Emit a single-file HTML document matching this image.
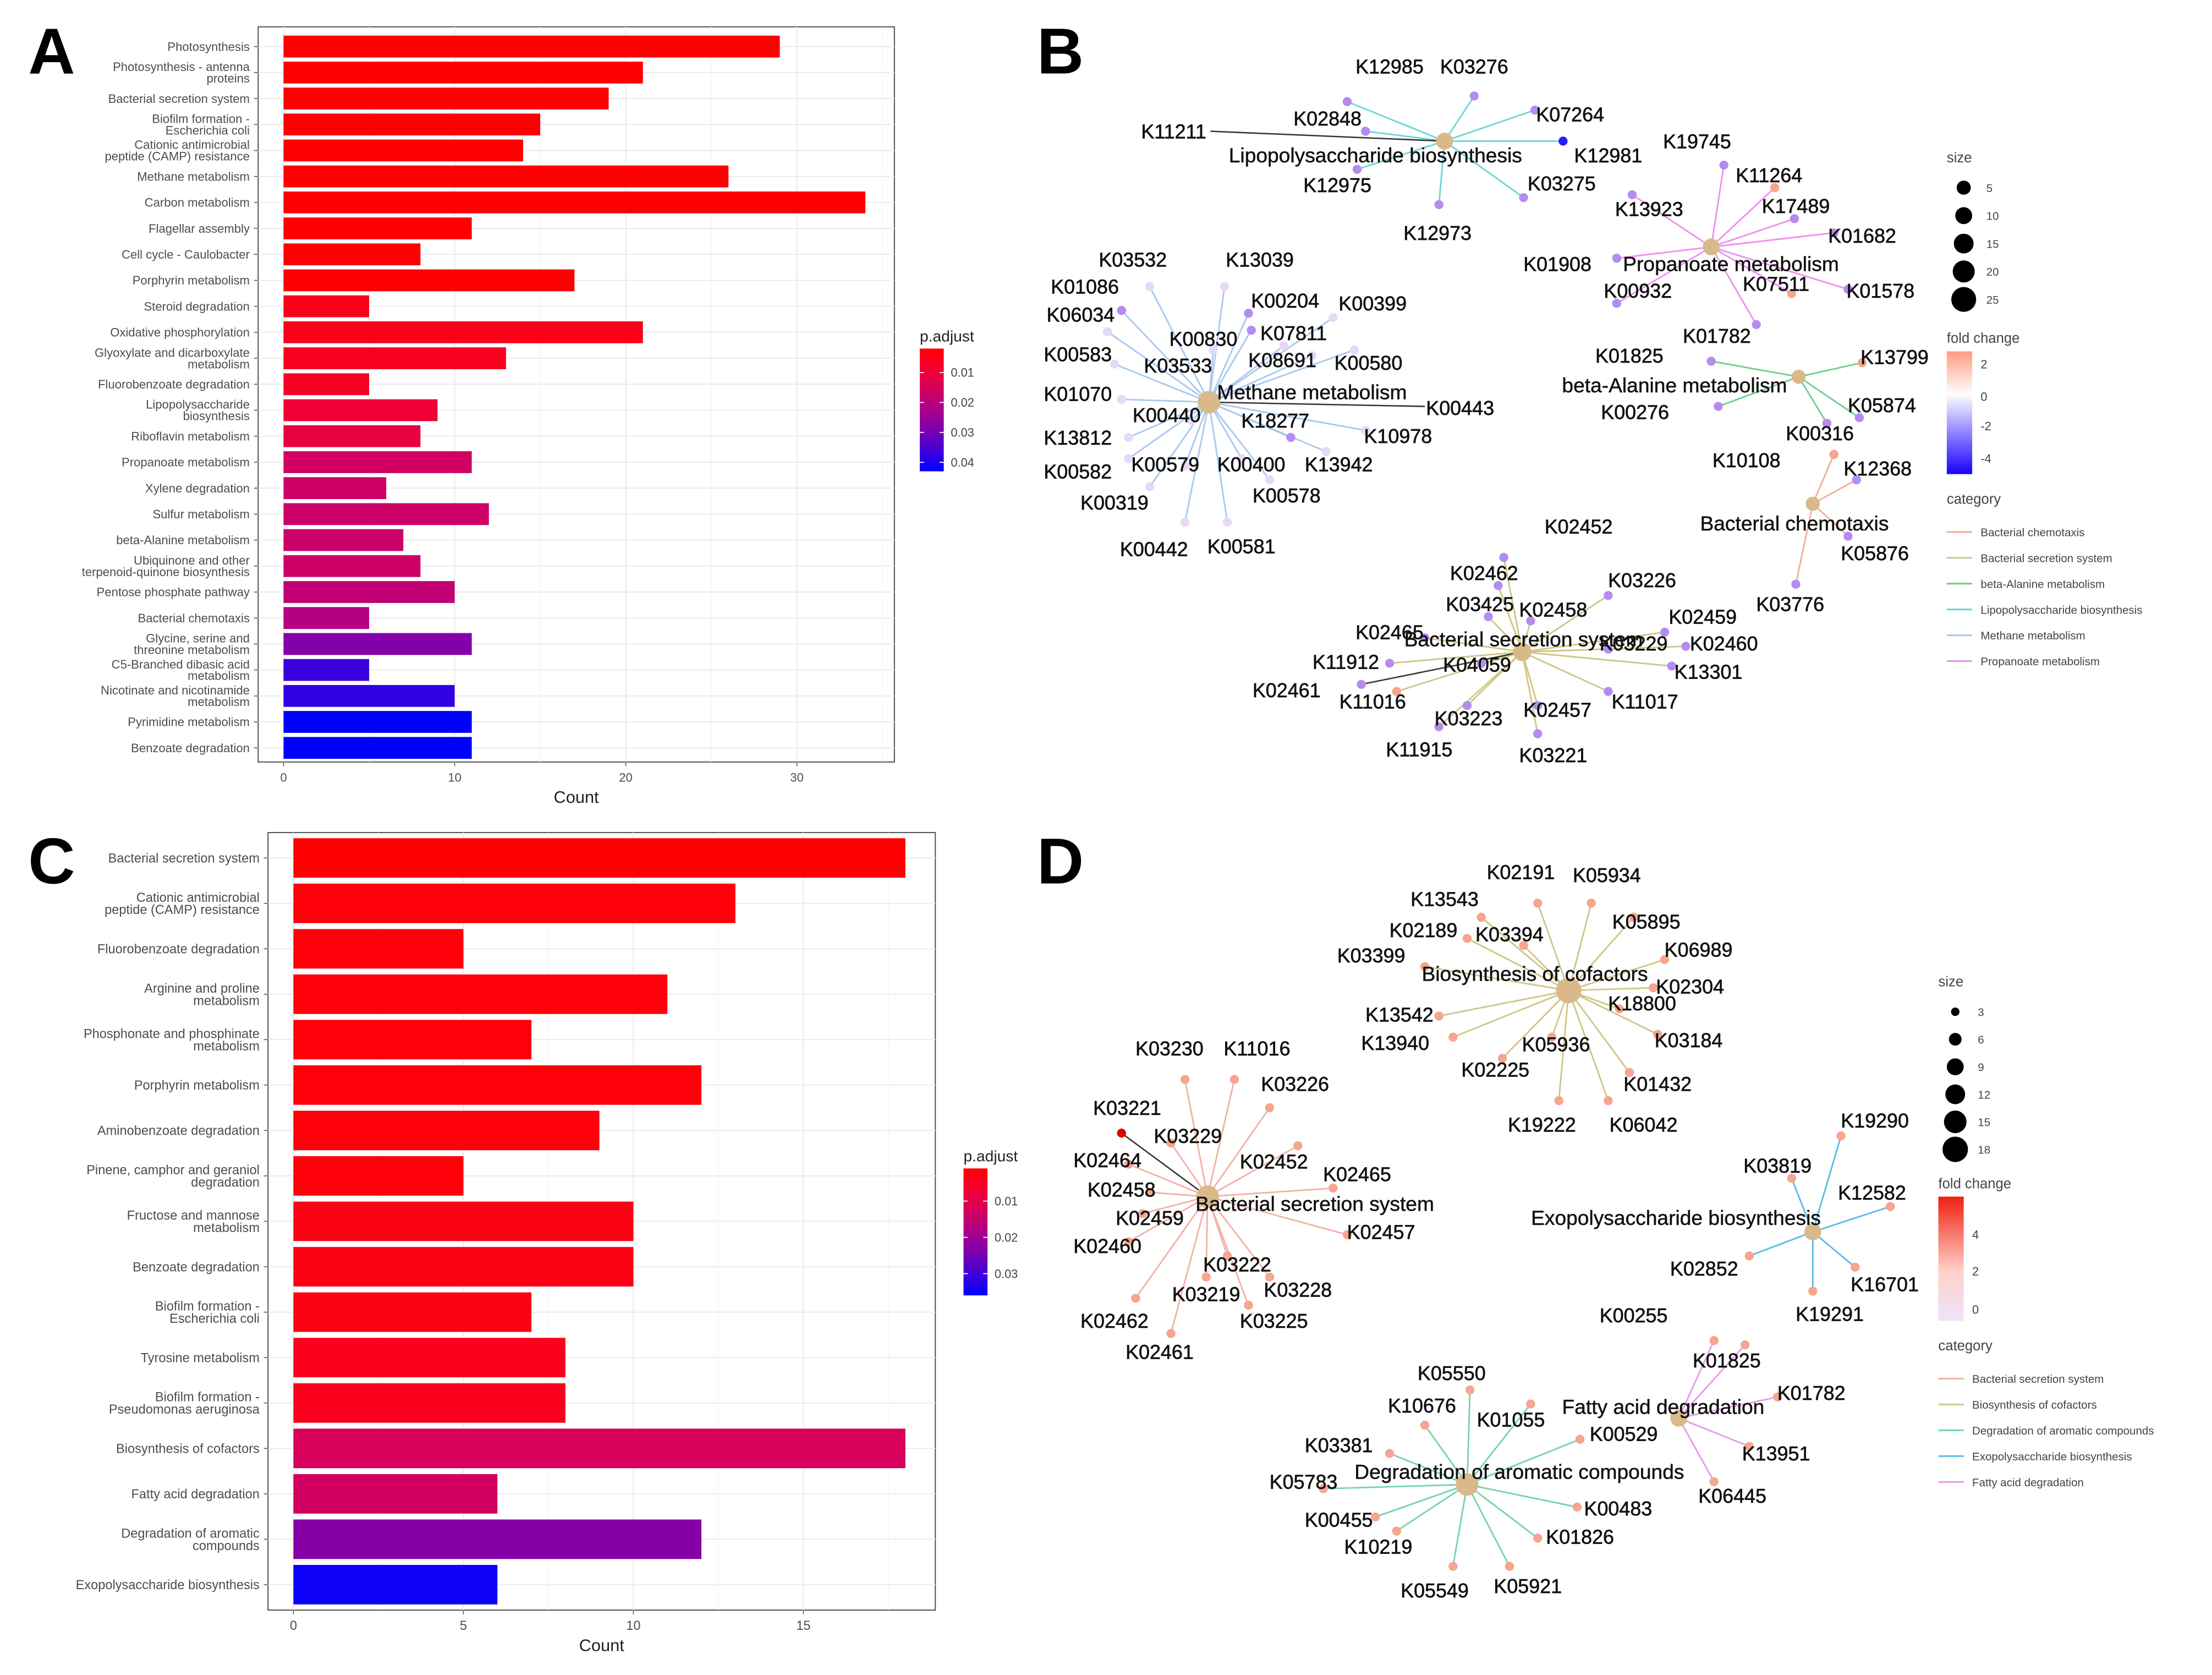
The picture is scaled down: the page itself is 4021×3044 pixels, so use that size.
<!DOCTYPE html>
<html><head><meta charset="utf-8">
<style>
html,body{margin:0;padding:0;background:#fff;}
svg{display:block;font-family:"Liberation Sans",sans-serif;}
</style></head>
<body>
<svg id="fig" width="4021" height="3044" viewBox="0 0 1568 1187" xmlns="http://www.w3.org/2000/svg">
<rect width="1568" height="1187" fill="#fff"/>
<g id="root"></g>
</svg>
<script>
// ---------- Panel A data ----------
const catsA = ["Photosynthesis","Photosynthesis - antenna\nproteins","Bacterial secretion system","Biofilm formation -\nEscherichia coli","Cationic antimicrobial\npeptide (CAMP) resistance","Methane metabolism","Carbon metabolism","Flagellar assembly","Cell cycle - Caulobacter","Porphyrin metabolism","Steroid degradation","Oxidative phosphorylation","Glyoxylate and dicarboxylate\nmetabolism","Fluorobenzoate degradation","Lipopolysaccharide\nbiosynthesis","Riboflavin metabolism","Propanoate metabolism","Xylene degradation","Sulfur metabolism","beta-Alanine metabolism","Ubiquinone and other\nterpenoid-quinone biosynthesis","Pentose phosphate pathway","Bacterial chemotaxis","Glycine, serine and\nthreonine metabolism","C5-Branched dibasic acid\nmetabolism","Nicotinate and nicotinamide\nmetabolism","Pyrimidine metabolism","Benzoate degradation"];
const countsA = [29,21,19,15,14,26,34,11,8,17,5,21,13,5,9,8,11,6,12,7,8,10,5,11,5,10,11,11];
const padjA = [0.002,0.002,0.002,0.002,0.002,0.002,0.002,0.002,0.002,0.002,0.005,0.005,0.006,0.007,0.009,0.011,0.016,0.017,0.017,0.017,0.017,0.019,0.021,0.028,0.037,0.038,0.043,0.043];
const ticksA = [0,10,20,30];
const legTicksA = [0.01,0.02,0.03,0.04];
// ---------- Panel C data ----------
const catsC = ["Bacterial secretion system","Cationic antimicrobial\npeptide (CAMP) resistance","Fluorobenzoate degradation","Arginine and proline\nmetabolism","Phosphonate and phosphinate\nmetabolism","Porphyrin metabolism","Aminobenzoate degradation","Pinene, camphor and geraniol\ndegradation","Fructose and mannose\nmetabolism","Benzoate degradation","Biofilm formation -\nEscherichia coli","Tyrosine metabolism","Biofilm formation -\nPseudomonas aeruginosa","Biosynthesis of cofactors","Fatty acid degradation","Degradation of aromatic\ncompounds","Exopolysaccharide biosynthesis"];
const countsC = [18,13,5,11,7,12,9,5,10,10,7,8,8,18,6,12,6];
const padjC = [0.001,0.002,0.002,0.002,0.002,0.002,0.002,0.002,0.003,0.003,0.003,0.004,0.004,0.012,0.013,0.023,0.035];
const ticksC = [0,5,10,15];
const legTicksC = [0.01,0.02,0.03];

const NS="http://www.w3.org/2000/svg";
const root=document.getElementById('root');
function mk(tag,attrs,parent,text){const e=document.createElementNS(NS,tag);for(const k in attrs)e.setAttribute(k,attrs[k]);if(text!==undefined)e.textContent=text;(parent||root).appendChild(e);return e;}

function pcol(p,pmin,pmax){let t=(p-pmin)/(pmax-pmin);t=Math.max(0,Math.min(1,t));
 const b=Math.round(255*Math.pow(t,0.9));
 const rr=Math.round(255*(1-Math.pow(t,1.6)));
 return `rgb(${rr},0,${b})`;}

function barPanel(o){
 const g=mk('g',{});
 
 
 mk('rect',{x:o.bx0,y:o.by0,width:o.bx1-o.bx0,height:o.by1-o.by0,fill:'#fff',stroke:'#555','stroke-width':0.8},g);
 const xs=v=>o.x0+v*o.ppu;
 const n=o.cats.length;
 const ys=i=>o.yTop+i*(o.yBot-o.yTop)/(n-1);
 o.ticks.forEach(t=>{mk('line',{x1:xs(t),x2:xs(t),y1:o.by0,y2:o.by1,stroke:'#ebebeb','stroke-width':0.8},g);
  mk('line',{x1:xs(t+o.ticks[1]/2),x2:xs(t+o.ticks[1]/2),y1:o.by0,y2:o.by1,stroke:'#f4f4f4','stroke-width':0.5},g);});
 for(let i=0;i<n;i++)mk('line',{x1:o.bx0,x2:o.bx1,y1:ys(i),y2:ys(i),stroke:'#ebebeb','stroke-width':0.8},g);
 o.cats.forEach((c,i)=>{
  const r=mk('rect',{x:xs(0),y:ys(i)-o.bh/2,width:xs(o.counts[i])-xs(0),height:o.bh,fill:pcol(o.padj[i],o.pmin,o.pmax)},g);
  
  
  const lines=c.split('\n');
  const t=mk('text',{x:o.bx0-6,'text-anchor':'end','font-size':o.fs,fill:'#4d4d4d'},g);
  
  
  lines.forEach((l,k)=>{mk('tspan',{x:o.bx0-6,y:ys(i)+o.fs*0.35+(k-(lines.length-1)/2)*o.fs*0.95},t,l);});
  mk('line',{x1:o.bx0-3,x2:o.bx0,y1:ys(i),y2:ys(i),stroke:'#555','stroke-width':0.6},g);
 });
 o.ticks.forEach(t=>{mk('line',{x1:xs(t),x2:xs(t),y1:o.by1,y2:o.by1+3,stroke:'#555','stroke-width':0.6},g);
  const tt=mk('text',{x:xs(t),y:o.by1+14,'text-anchor':'middle','font-size':o.fs,fill:'#4d4d4d'},g,String(t));
  
  });
 const at=mk('text',{x:(o.bx0+o.bx1)/2,y:o.by1+29,'text-anchor':'middle','font-size':12,fill:'#222'},g,'Count');
 
 
 const lg=mk('g',{},g);
 
 
 mk('text',{x:o.lx,y:o.ly-5,'font-size':11,fill:'#222'},lg,'p.adjust');
 const gid='grad'+o.name;
 const gr=mk('linearGradient',{id:gid,x1:0,y1:0,x2:0,y2:1},lg);
 for(let s=0;s<=10;s++){const p=o.pmin+(o.pmax-o.pmin)*s/10;mk('stop',{offset:s/10,'stop-color':pcol(p,o.pmin,o.pmax)},gr);}
 mk('rect',{x:o.lx,y:o.ly,width:17,height:o.lh,fill:`url(#${gid})`},lg);
 const ly=p=>o.ly+(p-o.pmin)/(o.pmax-o.pmin)*o.lh;
 o.legTicks.forEach(p=>{mk('line',{x1:o.lx,x2:o.lx+3,y1:ly(p),y2:ly(p),stroke:'#fff','stroke-width':0.7},lg);mk('line',{x1:o.lx+14,x2:o.lx+17,y1:ly(p),y2:ly(p),stroke:'#fff','stroke-width':0.7},lg);
  mk('text',{x:o.lx+22,y:ly(p)+3,'font-size':8.5,fill:'#444'},lg,String(p));});
}
barPanel({name:'panel-a-bar-chart',cats:catsA,counts:countsA,padj:padjA,ticks:ticksA,legTicks:legTicksA,bx0:183,bx1:634,by0:19,by1:540,x0:201,ppu:12.13,yTop:33,yBot:530,bh:15.5,fs:8.6,pmin:0.002,pmax:0.043,lx:652,ly:247,lh:87});
barPanel({name:'panel-c-bar-chart',cats:catsC,counts:countsC,padj:padjC,ticks:ticksC,legTicks:legTicksC,bx0:190,bx1:663,by0:590,by1:1141,x0:208,ppu:24.1,yTop:608,yBot:1123,bh:28,fs:9.2,pmin:0.001,pmax:0.036,lx:683,ly:828,lh:90});

function network(name,centers,genes){
 const g=mk('g',{});
 
 
 const eg=mk('g',{},g);
 genes.forEach(d=>{const c=centers[d[5]];mk('line',{x1:c.x,y1:c.y,x2:d[3],y2:d[4],stroke:d[7]?'#333':c.col,'stroke-width':d[7]?1:1.1},eg);});
 genes.forEach(d=>{const n=mk('circle',{cx:d[3],cy:d[4],r:d[6]&&d[6].r||3.2,fill:(d[6]&&d[6].f)||centers[d[5]].node},g);
  
  });
 Object.keys(centers).forEach(k=>{const c=centers[k];const n=mk('circle',{cx:c.x,cy:c.y,r:c.r,fill:'#d9b98a'},g);
  
  });
 genes.forEach(d=>{const t=mk('text',{x:d[1],y:d[2]+5,'text-anchor':'middle','font-size':14,fill:'#111',stroke:'#111','stroke-width':0.25},g,d[0]);
  
  });
 Object.keys(centers).forEach(k=>{const c=centers[k];const t=mk('text',{x:c.lx,y:c.ly+5,'text-anchor':'middle','font-size':14.5,fill:'#111',stroke:'#111','stroke-width':0.2},g,c.label);
  
  });
}
const P='#b48cf0', S='#f6a58e';
const centersB={
 lps:{x:1024,y:100,r:6,label:'Lipopolysaccharide biosynthesis',lx:975,ly:110,col:'#6dd6d6',node:P},
 pro:{x:1213,y:175,r:6,label:'Propanoate metabolism',lx:1227,ly:187,col:'#ee90ee',node:P},
 met:{x:857,y:285,r:8,label:'Methane metabolism',lx:930,ly:278,col:'#a8c8f0',node:'#e8d8f8'},
 ala:{x:1275,y:267,r:5,label:'beta-Alanine metabolism',lx:1187,ly:273,col:'#6cd08a',node:P},
 che:{x:1285,y:357,r:5,label:'Bacterial chemotaxis',lx:1272,ly:371,col:'#f5aaa0',node:P},
 sec:{x:1079,y:462,r:6.5,label:'Bacterial secretion system',lx:1080,ly:453,col:'#cfc684',node:P}};
const genesB=[
["K12985",985,47,955,72,'lps'],["K03276",1045,47,1045,68,'lps'],["K07264",1113,81,1088,78,'lps'],["K02848",941,84,968,93,'lps'],["K11211",832,93,858,93,'lps',{r:0.1},1],["K12981",1140,110,1108,100,'lps',{f:'#2020ff'}],["K12975",948,131,962,120,'lps'],["K03275",1107,130,1080,140,'lps'],["K12973",1019,165,1020,145,'lps'],
["K19745",1203,100,1222,117,'pro'],["K11264",1254,124,1258,133,'pro',{f:S}],["K13923",1169,148,1157,138,'pro'],["K17489",1273,146,1272,155,'pro'],["K01682",1320,167,1300,165,'pro'],["K01908",1104,187,1146,183,'pro'],["K00932",1161,206,1146,215,'pro'],["K07511",1259,201,1270,208,'pro',{f:S}],["K01578",1333,206,1310,205,'pro'],["K01782",1217,238,1245,230,'pro'],
["K01825",1155,252,1213,256,'ala'],["K13799",1343,253,1320,257,'ala',{f:S}],["K00276",1159,292,1218,288,'ala'],["K05874",1334,287,1318,296,'ala'],["K00316",1290,307,1295,300,'ala'],
["K10108",1238,326,1300,322,'che',{f:S}],["K12368",1331,332,1316,340,'che'],["K05876",1329,392,1310,380,'che'],["K03776",1269,428,1273,414,'che'],
["K03532",803,184,815,203,'met'],["K13039",893,184,868,203,'met'],["K01086",769,203,795,220,'met',{f:P}],["K06034",766,223,785,235,'met'],["K00204",911,213,885,222,'met',{f:P}],["K00399",973,215,945,225,'met'],["K00830",853,240,887,234,'met',{f:P}],["K07811",917,236,910,245,'met'],["K00583",764,251,790,258,'met'],["K03533",835,259,860,248,'met'],["K08691",909,255,930,252,'met'],["K00580",970,257,960,248,'met'],["K01070",764,279,795,283,'met'],["K00443",1035,289,1010,288,'met',{r:0.1},1],["K00440",827,294,845,298,'met'],["K18277",904,298,915,310,'met',{f:P}],["K10978",991,309,968,305,'met'],["K13812",764,310,800,310,'met'],["K00582",764,334,800,325,'met'],["K00579",826,329,840,330,'met'],["K00400",887,329,880,325,'met'],["K13942",949,329,940,320,'met'],["K00578",912,351,900,340,'met'],["K00319",790,356,815,345,'met'],["K00442",818,389,840,370,'met'],["K00581",880,387,870,370,'met'],
["K02452",1119,373,1066,395,'sec'],["K02462",1052,406,1062,415,'sec'],["K03226",1164,411,1140,422,'sec'],["K03425",1049,428,1055,437,'sec'],["K02458",1101,432,1085,440,'sec'],["K02459",1207,437,1180,448,'sec'],["K02465",985,448,1010,452,'sec'],["K03229",1158,456,1140,460,'sec'],["K02460",1222,456,1195,458,'sec'],["K11912",954,469,985,470,'sec'],["K04059",1047,471,1050,470,'sec'],["K13301",1211,476,1185,472,'sec'],["K02461",912,489,965,485,'sec',null,1],["K11016",973,497,990,490,'sec',{f:S}],["K11017",1166,497,1140,490,'sec'],["K02457",1104,503,1090,500,'sec'],["K03223",1041,509,1040,500,'sec'],["K11915",1006,531,1020,515,'sec'],["K03221",1101,535,1090,520,'sec']];
network('panel-b-network',centersB,genesB);

const centersD={
 cof:{x:1112,y:702,r:9,label:'Biosynthesis of cofactors',lx:1088,ly:690,col:'#cfc684',node:S},
 sec:{x:856,y:848,r:8,label:'Bacterial secretion system',lx:932,ly:853,col:'#f5b0a6',node:S},
 exo:{x:1285,y:873,r:6,label:'Exopolysaccharide biosynthesis',lx:1188,ly:863,col:'#5bbbe6',node:S},
 fat:{x:1190,y:1005,r:6,label:'Fatty acid degradation',lx:1179,ly:997,col:'#e59ae8',node:S},
 aro:{x:1040,y:1052,r:8,label:'Degradation of aromatic compounds',lx:1077,ly:1043,col:'#74d4ac',node:S}};
const genesD=[
["K02191",1078,618,1090,640,'cof'],["K05934",1139,620,1128,640,'cof'],["K13543",1024,637,1050,650,'cof'],["K05895",1167,653,1158,650,'cof'],["K02189",1009,659,1040,665,'cof'],["K03394",1070,662,1080,670,'cof'],["K06989",1204,673,1180,680,'cof'],["K03399",972,677,1010,685,'cof'],["K02304",1198,699,1172,700,'cof'],["K18800",1164,711,1148,715,'cof'],["K13542",992,719,1020,720,'cof'],["K03184",1197,737,1175,733,'cof'],["K13940",989,739,1030,735,'cof'],["K05936",1103,740,1100,735,'cof'],["K02225",1060,758,1065,750,'cof'],["K01432",1175,768,1155,760,'cof'],["K19222",1093,797,1105,780,'cof'],["K06042",1165,797,1140,780,'cof'],
["K03230",829,743,840,765,'sec'],["K11016",891,743,875,765,'sec'],["K03226",918,768,900,785,'sec'],["K03221",799,785,795,803,'sec',{f:'#e00000'},1],["K03229",842,805,830,810,'sec'],["K02452",903,823,920,812,'sec'],["K02464",785,822,800,825,'sec'],["K02465",962,832,945,842,'sec'],["K02458",795,843,815,845,'sec'],["K02459",815,863,810,860,'sec'],["K02457",979,873,955,875,'sec'],["K02460",785,883,800,880,'sec'],["K03222",877,896,870,890,'sec'],["K03219",855,917,855,905,'sec'],["K03228",920,914,900,905,'sec'],["K02462",790,936,805,920,'sec'],["K03225",903,936,885,925,'sec'],["K02461",822,958,830,945,'sec'],
["K19290",1329,794,1305,805,'exo'],["K03819",1260,826,1270,835,'exo'],["K12582",1327,845,1340,855,'exo'],["K02852",1208,899,1240,890,'exo'],["K16701",1336,910,1315,898,'exo'],["K19291",1297,931,1285,915,'exo'],
["K00255",1158,932,1215,950,'fat'],["K01825",1224,964,1237,953,'fat'],["K01782",1284,987,1260,990,'fat'],["K13951",1259,1030,1240,1025,'fat'],["K06445",1228,1060,1215,1050,'fat'],
["K05550",1029,973,1042,985,'aro'],["K10676",1008,996,1010,1010,'aro'],["K01055",1071,1006,1085,995,'aro'],["K00529",1151,1016,1120,1020,'aro'],["K03381",949,1024,985,1030,'aro'],["K05783",924,1050,938,1055,'aro'],["K00483",1147,1069,1118,1068,'aro'],["K00455",949,1077,975,1075,'aro'],["K10219",977,1096,990,1085,'aro'],["K01826",1120,1089,1090,1090,'aro'],["K05549",1017,1127,1030,1110,'aro'],["K05921",1083,1124,1070,1110,'aro']];
network('panel-d-network',centersD,genesD);

function netLegend(name,x,sizeY,sizes,radii,gap,fcY,fcH,fcStops,fcTicks,fcTickY,catY,cats,catCols){
 const g=mk('g',{});
 
 
 mk('text',{x:x,y:sizeY,'font-size':10,fill:'#444'},g,'size');
 sizes.forEach((s,i)=>{const y=sizeY+18+i*gap;mk('circle',{cx:x+12,cy:y,r:radii[i],fill:'#000'},g);mk('text',{x:x+28,y:y+3,'font-size':8,fill:'#444'},g,String(s));});
 mk('text',{x:x,y:fcY,'font-size':10,fill:'#444'},g,'fold change');
 const gid='fc'+name;const gr=mk('linearGradient',{id:gid,x1:0,y1:0,x2:0,y2:1},g);
 fcStops.forEach(s=>mk('stop',{offset:s[0],'stop-color':s[1]},gr));
 mk('rect',{x:x,y:fcY+6,width:18,height:fcH,fill:`url(#${gid})`},g);
 fcTicks.forEach((t,i)=>mk('text',{x:x+24,y:fcTickY[i]+3,'font-size':8.5,fill:'#444'},g,String(t)));
 mk('text',{x:x,y:catY,'font-size':10,fill:'#444'},g,'category');
 cats.forEach((c,i)=>{const yy=catY+20+i*18.3;mk('line',{x1:x,x2:x+18,y1:yy,y2:yy,stroke:catCols[i],'stroke-width':1.2},g);
  mk('text',{x:x+24,y:yy+3,'font-size':8,fill:'#444'},g,c);});
}
netLegend('panel-b-legend',1380,115,[5,10,15,20,25],[5,6,7,7.8,8.8],19.8,243,87,[[0,'#ff9a80'],[0.35,'#ffffff'],[1,'#1a00ff']],[2,0,-2,-4],[258,281,302,325],357,
 ['Bacterial chemotaxis','Bacterial secretion system','beta-Alanine metabolism','Lipopolysaccharide biosynthesis','Methane metabolism','Propanoate metabolism'],['#f5aaa0','#cfc684','#6cd08a','#6dd6d6','#a8c8f0','#ee90ee']);
netLegend('panel-d-legend',1374,699,[3,6,9,12,15,18],[3,4.5,6,7,8,9],19.5,842,88,[[0,'#f02010'],[0.6,'#ffd0c8'],[1,'#ece4fa']],[4,2,0],[875,901,928],957,
 ['Bacterial secretion system','Biosynthesis of cofactors','Degradation of aromatic compounds','Exopolysaccharide biosynthesis','Fatty acid degradation'],['#f5b0a6','#cfc684','#74d4ac','#5bbbe6','#e59ae8']);

[['A',20,52],['B',735,52],['C',20,626],['D',735,626]].forEach(l=>{const t=mk('text',{x:l[1],y:l[2],'font-size':46,'font-weight':'bold',fill:'#000'},root,l[0]);
 
 });
</script>
</body></html>
